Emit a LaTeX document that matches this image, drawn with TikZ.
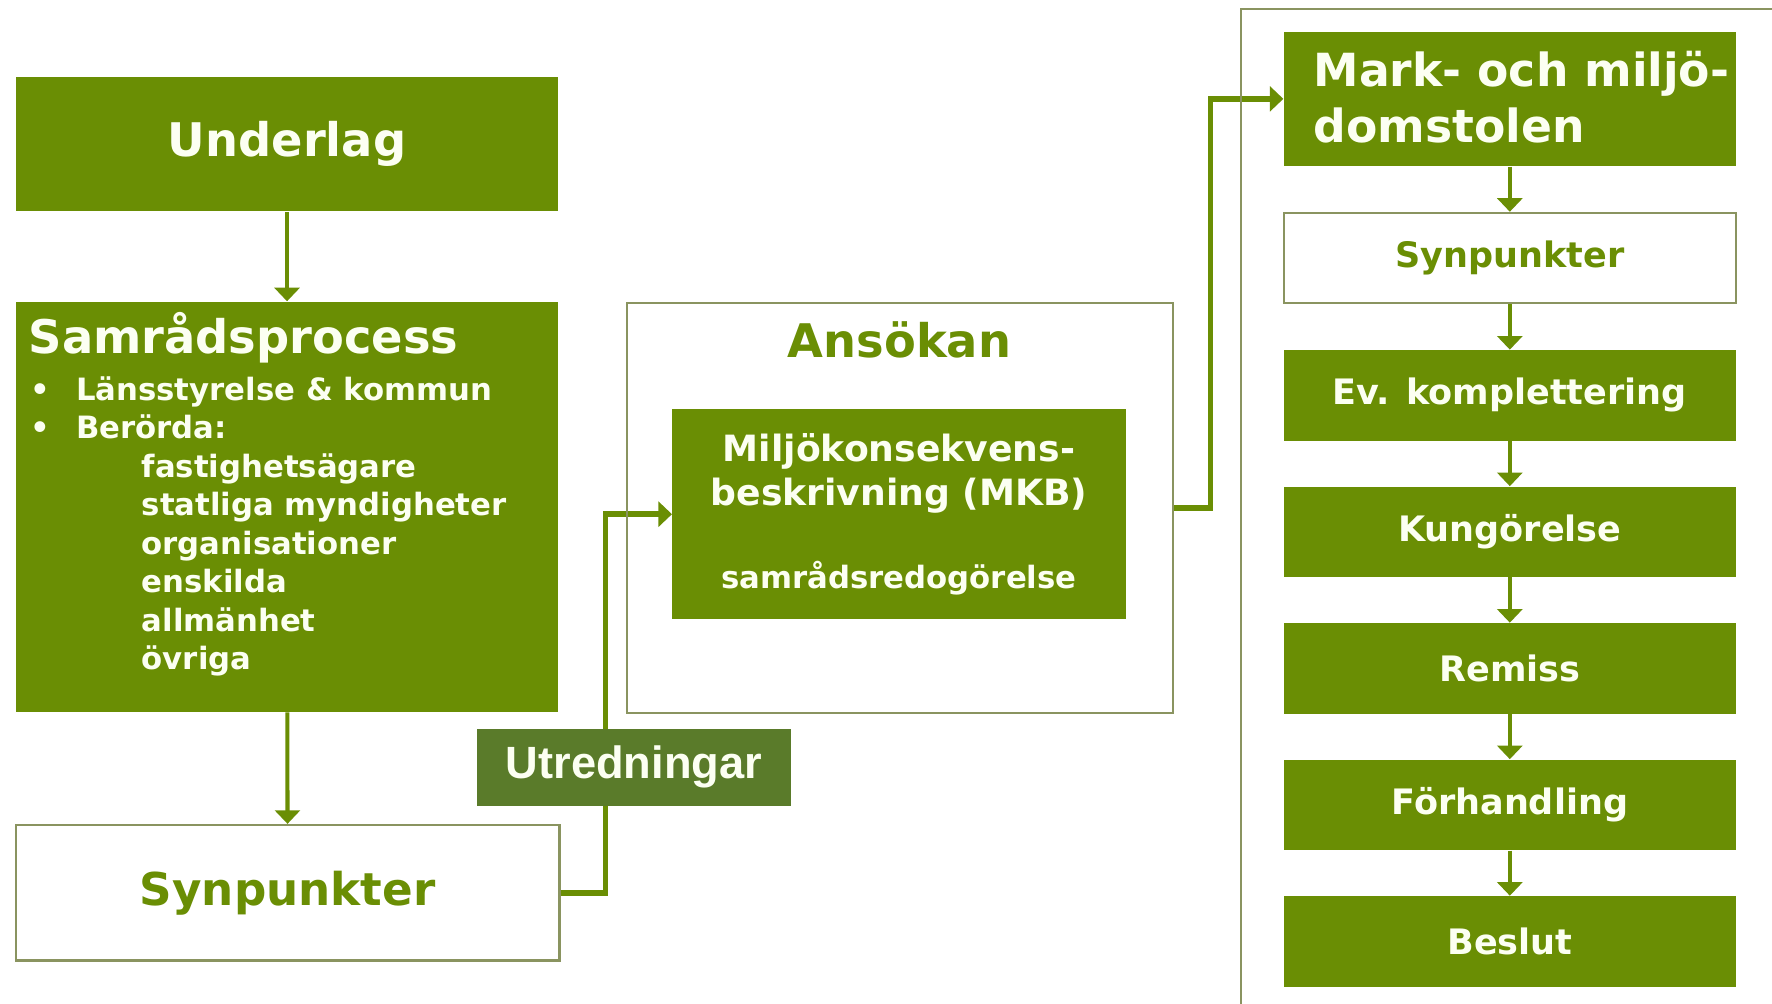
\documentclass[tikz,border=0pt]{standalone}
\usepackage{fontspec}
\setmainfont{DejaVu Sans}
\newfontfamily\utrfont{Liberation Sans}
\usetikzlibrary{arrows.meta,positioning}
\definecolor{mkgreen}{HTML}{6A8E04}
\definecolor{utrgreen}{HTML}{5A7B2A}
\definecolor{framegray}{HTML}{8A9460}
\definecolor{palewhite}{HTML}{FCFFF2}
\tikzset{>={Triangle[width=11pt,length=6pt]}}
\tikzset{
  greenbox/.style={fill=mkgreen, text=palewhite, inner sep=0pt},
  whitebox/.style={draw=framegray, line width=1pt, fill=white, text=mkgreen, inner sep=0pt},
  rightbox/.style={minimum width=200pt, minimum height=40pt,
    font=\bfseries\fontsize{15.5}{19}\selectfont},
  flow/.style={->, draw=mkgreen, line width=1.8pt},
  link/.style={->, draw=mkgreen, line width=2.4pt},
}

\begin{document}
\begin{tikzpicture}[x=0.5pt, y=-0.5pt]
\useasboundingbox[fill=white] (0,0) rectangle (1568,888);

% left column
\node[greenbox, minimum width=240pt, minimum height=59.5pt,
  font=\bfseries\fontsize{20.5}{24}\selectfont] (underlag) at (254,127.5) {Underlag};
\node[greenbox, minimum width=240pt, minimum height=181.5pt] (samrad) at (254,448.5) {};
\node[text=palewhite, inner sep=0pt, anchor=base west,
  font=\bfseries\fontsize{20.5}{24}\selectfont] (samradtitle) at (25,313) {Samrådsprocess};
\node[text=palewhite, inner sep=0pt, anchor=north west, align=left,
  font=\bfseries\fontsize{13.6}{17}\selectfont] (samradlist) at (27,333)
  {\makebox[20pt][l]{•}Länsstyrelse \& kommun\\
   \makebox[20pt][l]{•}Berörda:\\
   \hspace*{49pt}fastighetsägare\\
   \hspace*{49pt}statliga myndigheter\\
   \hspace*{49pt}organisationer\\
   \hspace*{49pt}enskilda\\
   \hspace*{49pt}allmänhet\\
   \hspace*{49pt}övriga};
\node[whitebox, minimum width=240.5pt, minimum height=60pt,
  font=\bfseries\fontsize{20}{24}\selectfont] (synleft) at (254.5,790) {Synpunkter};

\draw[flow] (underlag) -- (samrad);
\draw[flow] (samrad) -- (synleft);

% application
\node[greenbox, minimum width=200.5pt, minimum height=93pt, align=center,
  font=\bfseries\fontsize{16}{19.5}\selectfont] (mkb) at (795.5,455)
  {Miljökonsekvens-\\beskrivning (MKB)\\[17pt]
   {\fontsize{13.6}{16}\selectfont samrådsredogörelse}};

\draw[link] (synleft.east) -- ++(20pt,0) |- (mkb.west);

\node[fill=utrgreen, text=palewhite, inner sep=0pt, minimum width=139pt, minimum height=34pt,
  font=\utrfont\bfseries\fontsize{20}{24}\selectfont] (utred) at (561,679) {Utredningar};

\node[draw=framegray, line width=1pt, minimum width=241.5pt, minimum height=181.5pt,
  inner sep=0pt] (ansokan) at (796.5,449.5) {};
\node[text=mkgreen, inner sep=0pt,
  font=\bfseries\fontsize{20.5}{24}\selectfont] (ansokantitle) at (796,301) {Ansökan};

% court
\node[greenbox, minimum width=200pt, minimum height=59.5pt] (mark) at (1336,87.5) {};
\node[text=palewhite, inner sep=0pt, anchor=west, align=left,
  font=\bfseries\fontsize{20.2}{24.5}\selectfont] (marktext) at (1162,86)
  {Mark- och miljö-\\domstolen};
\node[whitebox, rightbox, below=20pt of mark] (synright) {Synpunkter};
\node[greenbox, rightbox, below=20pt of synright] (komplettering) {Ev. komplettering};
\node[greenbox, rightbox, below=20pt of komplettering] (kungorelse) {Kungörelse};
\node[greenbox, rightbox, below=20pt of kungorelse] (remiss) {Remiss};
\node[greenbox, rightbox, below=20pt of remiss] (forhandling) {Förhandling};
\node[greenbox, rightbox, below=20pt of forhandling] (beslut) {Beslut};

\draw[flow] (mark) -- (synright);
\draw[flow] (synright) -- (komplettering);
\draw[flow] (komplettering) -- (kungorelse);
\draw[flow] (kungorelse) -- (remiss);
\draw[flow] (remiss) -- (forhandling);
\draw[flow] (forhandling) -- (beslut);

\draw[link] (ansokan.east) -- ++(16pt,0) |- (mark.west);

\draw[draw=framegray, line width=1pt] (1098,888) -- (1098,8) -- (1568,8);
\end{tikzpicture}
\end{document}
